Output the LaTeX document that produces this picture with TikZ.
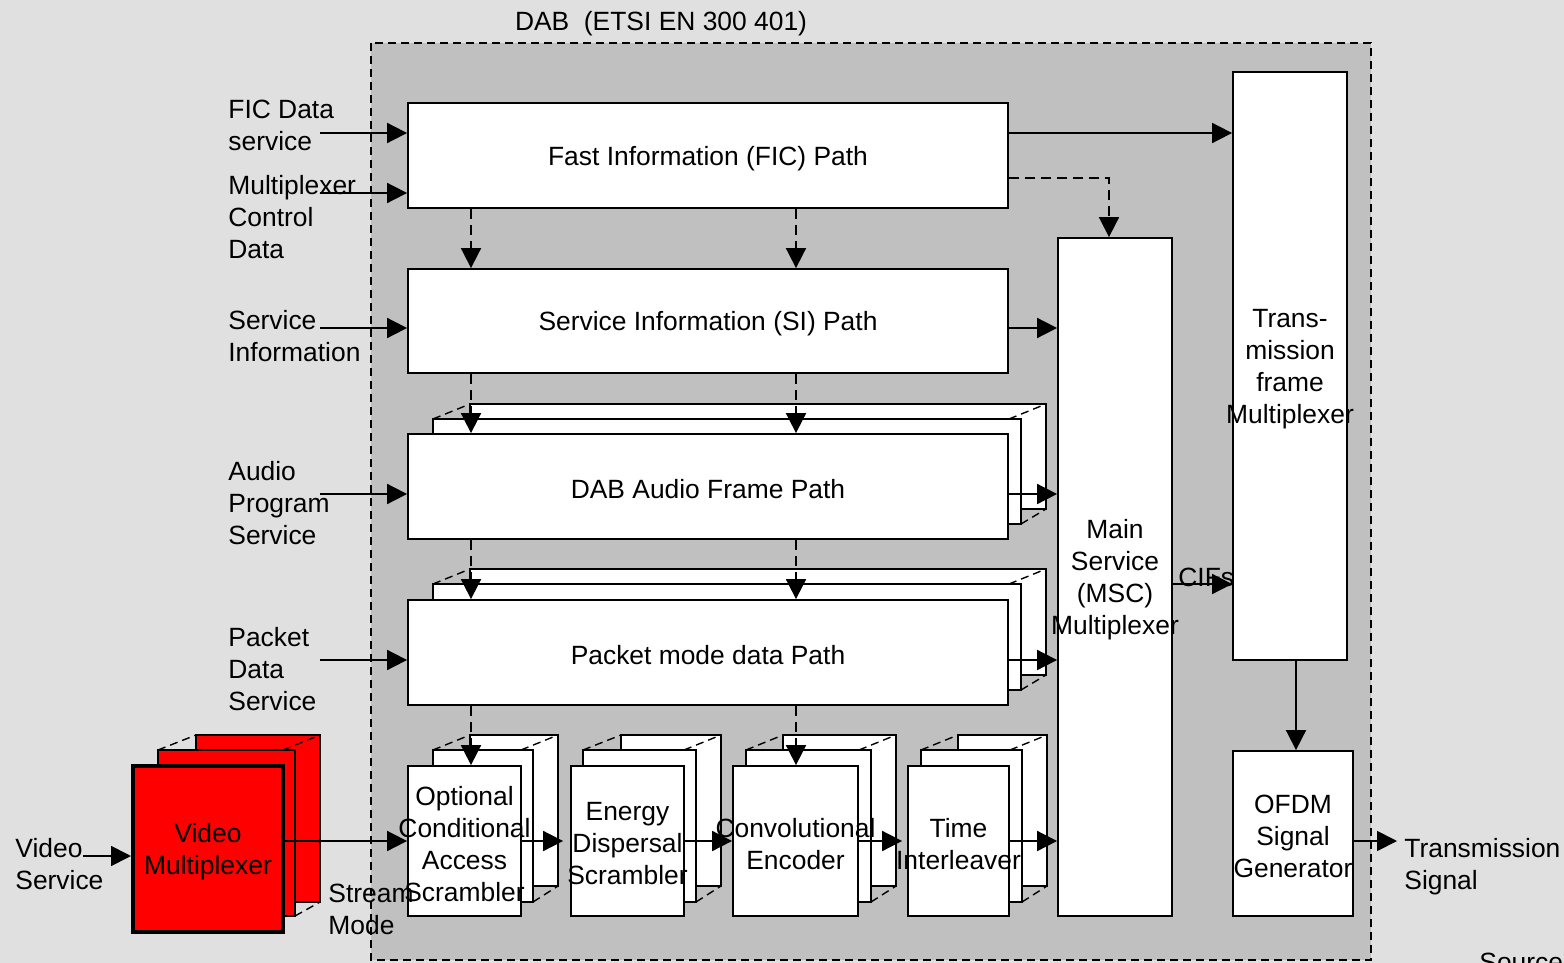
\documentclass[tikz,border=0pt]{standalone}
\usepackage{fontspec}
\setmainfont{Liberation Sans}
\usetikzlibrary{arrows.meta,fit}
\definecolor{outerbg}{RGB}{224,224,224}
\definecolor{innerbg}{RGB}{192,192,192}
\newcommand\backlayers[9]{%
 \draw[#1] (#6,#7) rectangle (#8,#9);
 \draw[#1] (#2,#3) rectangle (#4,#5);
 \draw[dl] (#2,#3) -- (#6,#7);
 \draw[dl] ({#4-12},#3) -- (#8,#7);
 \draw[dl] (#4,#5) -- (#8,#9);
}
\begin{document}
\begin{tikzpicture}[x=0.5pt,y=-0.5pt,
  font=\fontsize{13.2}{16}\selectfont,
  layer/.style={draw=black,line width=0.9pt,fill=white},
  vlayer/.style={draw=black,line width=0.9pt,fill=red},
  dl/.style={line width=0.7pt,dash pattern=on 4pt off 2.5pt},
  box/.style={draw=black,line width=0.9pt,fill=white,inner sep=0pt},
  vbox/.style={draw=black,line width=2pt,fill=red,inner sep=0pt},
  lbl/.style={align=center,inner sep=0pt,yshift=-1.5pt},
  tx/.style={align=left,inner sep=0pt,anchor=west},
  arr/.style={line width=0.9pt,-{Triangle[length=10pt,width=10pt]}},
  darr/.style={arr,dash pattern=on 5pt off 3pt}]
\useasboundingbox (0,0) rectangle (1564,963);
\clip (0,0) rectangle (1564,963);
\fill[outerbg] (0,0) rectangle (1564,963);
\draw[fill=innerbg,line width=0.7pt,dash pattern=on 4pt off 2.5pt] (371,43) rectangle (1371,960);
\node[inner sep=0pt] (title) at (661,24) {DAB\ \ (ETSI EN 300 401)};

% single boxes
\node[box,fit={(408,103)(1008,208)},label={[lbl]center:Fast Information (FIC) Path}] (fic) {};
\node[box,fit={(408,269)(1008,373)},label={[lbl]center:Service Information (SI) Path}] (si) {};
\node[box,fit={(1058,238)(1172,916)},label={[lbl]center:Main\\Service\\(MSC)\\Multiplexer}] (msc) {};
\node[box,fit={(1233,72)(1347,660)},label={[lbl]center:Trans-\\mission\\frame\\Multiplexer}] (trans) {};
\node[box,fit={(1233,751)(1353,916)},label={[lbl]center:OFDM\\Signal\\Generator}] (ofdm) {};

% stacks
\backlayers{layer}{433}{419}{1021}{524}{470}{404}{1046}{509}
\node[box,fit={(408,434)(1008,539)},label={[lbl]center:DAB Audio Frame Path}] (audio) {};
\backlayers{layer}{433}{584}{1021}{690}{470}{569}{1046}{675}
\node[box,fit={(408,600)(1008,705)},label={[lbl]center:Packet mode data Path}] (packet) {};
\backlayers{layer}{433}{750}{533}{902}{470}{735}{558}{886}
\node[box,fit={(408,766)(521,916)},label={[lbl]center:Optional\\Conditional\\Access\\Scrambler}] (oca) {};
\backlayers{layer}{583}{750}{696}{902}{621}{735}{721}{886}
\node[box,fit={(571,766)(684,916)},label={[lbl]center:Energy\\Dispersal\\Scrambler}] (energy) {};
\backlayers{layer}{746}{750}{871}{902}{783}{735}{896}{886}
\node[box,fit={(733,766)(858,916)},label={[lbl]center:Convolutional\\Encoder}] (conv) {};
\backlayers{layer}{921}{750}{1022}{902}{958}{735}{1047}{886}
\node[box,fit={(908,766)(1009,916)},label={[lbl]center:Time\\Interleaver}] (time) {};
\backlayers{vlayer}{158}{750}{295}{916}{196}{735}{320}{902}
\node[vbox,fit={(133,766)(283,932)},label={[lbl]center:Video\\Multiplexer}] (vmux) {};

% left labels
\node[tx] (lfic) at (228,125) {FIC Data\\service};
\node[tx] (lmcd) at (228,217) {Multiplexer\\Control\\Data};
\node[tx] (lsi) at (228,336) {Service\\Information};
\node[tx] (laud) at (228,503) {Audio\\Program\\Service};
\node[tx] (lpkt) at (228,669) {Packet\\Data\\Service};
\node[tx] (lvid) at (15,864) {Video\\Service};
\node[tx] (lstr) at (328,909) {Stream\\Mode};
\node[tx] (ltx) at (1404,867) {Transmission\\Signal};
\node[tx] (lcif) at (1178,577) {CIFs};
\node[inner sep=0pt,anchor=base west] (src) at (1479,971) {Source};

% free ends
\coordinate (i1) at (320,133);
\coordinate (i2) at (320,193);
\coordinate (i3) at (320,328);
\coordinate (i4) at (320,494);
\coordinate (i5) at (320,660);
\coordinate (i6) at (83,856);
\coordinate (o1) at (1397,841);

% input arrows
\draw[arr] (i1) -- (fic.west |- i1);
\draw[arr] (i2) -- (fic.west |- i2);
\draw[arr] (i3) -- (si.west |- i3);
\draw[arr] (i4) -- (audio.west |- i4);
\draw[arr] (i5) -- (packet.west |- i5);
\draw[arr] (i6) -- (vmux.west |- i6);

% chain
\draw[arr] (vmux.east |- 0,841) -- (oca.west |- 0,841);
\draw[arr,shorten >=3.5pt] (oca.east |- 0,841) -- (energy.west |- 0,841);
\draw[arr] (energy.east |- 0,841) -- (conv.west |- 0,841);
\draw[arr,shorten >=2.5pt] (conv.east |- 0,841) -- (time.west |- 0,841);
\draw[arr] (time.east |- 0,841) -- (msc.west |- 0,841);
\draw[arr] (audio.east |- 0,494) -- (msc.west |- 0,494);
\draw[arr] (packet.east |- 0,660) -- (msc.west |- 0,660);
\draw[arr] (si.east |- 0,328) -- (msc.west |- 0,328);
\draw[arr] (fic.east |- 0,133) -- (trans.west |- 0,133);
\draw[darr] (fic.east |- 0,178) -| (msc.north -| 1109,0);
\draw[arr] (msc.east |- 0,584) -- (trans.west |- 0,584);
\draw[arr] (trans.south -| 1296,0) -- (ofdm.north -| 1296,0);
\draw[arr] (ofdm.east |- o1) -- (o1);

% dashed verticals
\foreach \x in {471,796} {
  \draw[darr] (fic.south -| \x,0) -- (si.north -| \x,0);
  \draw[darr] (si.south -| \x,0) -- (audio.north -| \x,0);
  \draw[darr] (audio.south -| \x,0) -- (packet.north -| \x,0);
}
\draw[darr] (packet.south -| 471,0) -- (oca.north -| 471,0);
\draw[darr] (packet.south -| 796,0) -- (conv.north -| 796,0);
\end{tikzpicture}
\end{document}
